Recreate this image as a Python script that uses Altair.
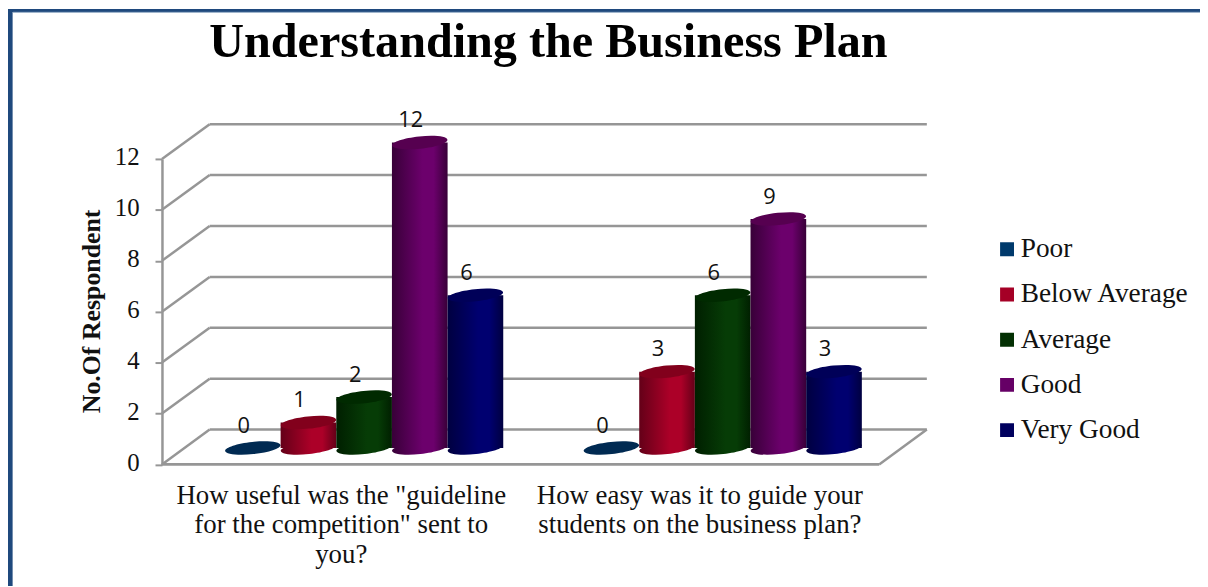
import altair as alt
import pandas as pd

TITLE = "Understanding the Business Plan"
Y_TITLE = "No.Of Respondent"
QUESTIONS = [
    'How useful was the "guideline|for the competition" sent to|you?',
    "How easy was it to guide your|students on the business plan?",
]
SERIES = ["Poor", "Below Average", "Average", "Good", "Very Good"]
VALUES_Q1 = [0, 1, 2, 12, 6]
VALUES_Q2 = [0, 3, 6, 9, 3]
GRID_VALUES = [0, 2, 4, 6, 8, 10, 12]
SWATCH = ["#003a6c", "#a50026", "#033003", "#660066", "#00005e"]
EDGE = ["#00284c", "#640018", "#001f00", "#380038", "#000040"]
BRIGHT = ["#003060", "#ac0028", "#063c06", "#6c006c", "#000070"]
TOP = ["#002a52", "#82001c", "#002a00", "#560050", "#000058"]

GRID = "#969696"
SERIF = "Liberation Serif"
W, H = 722, 307.5
DX, DY = 48, -35            # depth of the back wall
BAR_DX, BAR_DY = 23, -16.5  # depth of the bars
ELLIPSE = "M-1,0A1,0.22,0,1,1,1,0A1,0.22,0,1,1,-1,0Z"

df = pd.DataFrame(
    [{"q": q, "series": s, "v": v}
     for q, vals in zip(QUESTIONS, [VALUES_Q1, VALUES_Q2])
     for s, v in zip(SERIES, vals)]
)
grid = pd.DataFrame({"v": GRID_VALUES})

x_enc = alt.X(
    "q:N", sort=QUESTIONS, title=None,
    scale=alt.Scale(domain=QUESTIONS, range=[BAR_DX, W + BAR_DX], paddingInner=0.224, paddingOuter=0.112),
    axis=alt.Axis(
        domain=False, ticks=False, labelAngle=0, labelFont=SERIF, labelFontSize=27,
        labelColor="#111111", labelExpr="split(datum.label, '|')", labelLineHeight=30,
        labelLimit=600, labelPadding=18, labelAlign="center", labelBaseline="top",
        labelOffset=-BAR_DX,
    ),
)
x_off = alt.XOffset("series:N", sort=SERIES, scale=alt.Scale(domain=SERIES, paddingInner=0, paddingOuter=0))
y_scale = alt.Scale(domain=[0, 12], nice=False, zero=True)
y_axis = alt.Axis(
    values=GRID_VALUES, grid=False, domainColor=GRID, domainWidth=2.5,
    tickColor=GRID, tickWidth=2, tickSize=7, labelFont=SERIF, labelFontSize=25,
    labelColor="#111111", labelPadding=16, labelOffset=-2,
    titleFont=SERIF, titleFontSize=26, titleFontWeight="bold", titleColor="#111111",
    titleX=-71, titleY=153, titleAngle=270, titleAlign="center", titleBaseline="middle",
)
y_plain = alt.Y("v:Q", scale=y_scale, axis=y_axis, title=Y_TITLE, stack=None)

rule_base = alt.Chart(grid)
layers = []

# frame
layers.append(alt.Chart(grid.head(1)).mark_rule(color="#1f497d", strokeWidth=4.7).encode(
    x=alt.value(-152.7), y=alt.value(-151), y2=alt.value(430)))
layers.append(alt.Chart(grid.head(1)).mark_rule(color="#1f497d", strokeWidth=3).encode(
    x=alt.value(-155), x2=alt.value(1045), y=alt.value(-149.5)))
layers.append(alt.Chart(grid.head(1)).mark_rule(color="#8aa3c0", strokeWidth=1).encode(
    x=alt.value(-150), x2=alt.value(1045), y=alt.value(-147.6)))

# 3-D walls drawn from the grid values
layers.append(rule_base.mark_rule(color=GRID, strokeWidth=2.5, y2Offset=DY).encode(
    x=alt.value(0), x2=alt.value(DX), y=y_plain, y2="v:Q"))
layers.append(rule_base.mark_rule(color=GRID, strokeWidth=2.5, yOffset=DY).encode(
    x=alt.value(DX), x2=alt.value(W + DX), y=y_plain))
floor = grid[grid.v == 0]
layers.append(alt.Chart(floor).mark_rule(color=GRID, strokeWidth=3).encode(
    x=alt.value(0), x2=alt.value(W), y=y_plain))
layers.append(alt.Chart(floor).mark_rule(color=GRID, strokeWidth=2.5, y2Offset=DY).encode(
    x=alt.value(W), x2=alt.value(W + DX), y=y_plain, y2="v:Q"))

# legend carrier
layers.append(
    alt.Chart(df).mark_square(opacity=0, filled=True).encode(
        x=x_enc, xOffset=x_off,
        y=y_plain,
        color=alt.Color("series:N", sort=SERIES,
                        scale=alt.Scale(domain=SERIES, range=SWATCH),
                        legend=alt.Legend(
                            title=None, orient="none", legendX=837, legendY=80,
                            symbolType="square", symbolSize=196, symbolOpacity=1, symbolStrokeWidth=0,
                            labelFont=SERIF, labelFontSize=27.5, labelColor="#111111", labelOffset=0,
                            clipHeight=22, rowPadding=17.5, labelLimit=300,
                        )),
    )
)

for s, e, b, t in zip(SERIES, EDGE, BRIGHT, TOP):
    sub = df[df.series == s]
    grad = alt.Gradient(
        gradient="linear", x1=0, x2=1, y1=0, y2=0,
        stops=[alt.GradientStop(offset=0, color=e),
               alt.GradientStop(offset=0.55, color=b),
               alt.GradientStop(offset=0.75, color=b),
               alt.GradientStop(offset=1, color=e)],
    )
    base = alt.Chart(sub).encode(x=x_enc, xOffset=x_off)
    if s != "Poor":
        layers.append(base.transform_calculate(zero="0").mark_point(
            shape=ELLIPSE, size=3136, filled=True, fill=grad, opacity=1, strokeWidth=0,
            angle=354, yOffset=BAR_DY,
        ).encode(y=alt.Y("zero:Q", scale=y_scale, axis=y_axis, title=Y_TITLE)))
        layers.append(base.mark_bar(
            fill=grad, yOffset=BAR_DY, y2Offset=BAR_DY,
        ).encode(y=y_plain, y2=alt.datum(0)))
    layers.append(base.mark_point(
        shape=ELLIPSE, size=3136, filled=True, fill=t, opacity=1, strokeWidth=0,
        angle=354, yOffset=BAR_DY,
    ).encode(y=y_plain))

layers.append(
    alt.Chart(df).mark_text(font="Open Sans", fontSize=22, color="#111111",
                            dx=-9, yOffset=-39).encode(
        x=x_enc, xOffset=x_off, y=y_plain, text="v:Q")
)

chart = alt.layer(*layers).properties(
    width=W, height=H,
    title=alt.TitleParams(TITLE, font=SERIF, fontSize=48.5, fontWeight="bold", color="#000000",
                          anchor="middle", dx=28, dy=61, offset=0, frame="group"),
    padding={"left": 155, "top": 150, "right": 323, "bottom": 121.5},
    autosize=alt.AutoSizeParams(type="none"),
).configure_view(stroke=None).resolve_scale(x="shared", y="shared")

chart.save("out.html", embed_options={"renderer": "svg", "actions": False})
